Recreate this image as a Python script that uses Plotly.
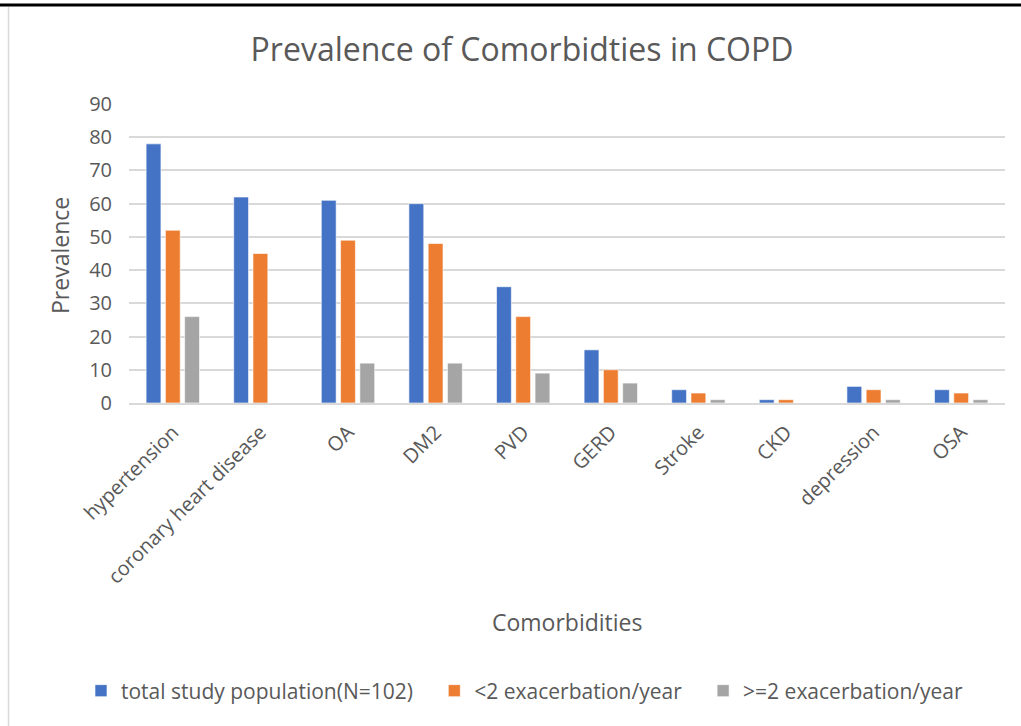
import plotly.graph_objects as go

categories = ["hypertension", "coronary heart disease", "OA", "DM2", "PVD",
              "GERD", "Stroke", "CKD", "depression", "OSA"]
total_pop = [78, 62, 61, 60, 35, 16, 4, 1, 5, 4]
lt2_exac = [52, 45, 49, 48, 26, 10, 3, 1, 4, 3]
ge2_exac = [26, 0, 12, 12, 9, 6, 1, 0, 1, 1]
series_names = ["total study population(N=102)", "<2 exacerbation/year", ">=2 exacerbation/year"]
colors = ["#4472C4", "#ED7D31", "#A5A5A5"]
y_ticks = [0, 10, 20, 30, 40, 50, 60, 70, 80, 90]

W, H = 1021, 726
L, R, T, B = 129, 16, 104, 323
pw, ph = W - L - R, H - T - B

def px_x(x):
    return (x - L) / pw

def px_y(y):
    return (H - B - y) / ph

font_fam = "Open Sans, sans-serif"
txt_col = "#595959"
pad = "\u00a0\u00a0\u00a0"

fig = go.Figure()
for i, (name, vals, c) in enumerate(zip(series_names, [total_pop, lt2_exac, ge2_exac], colors)):
    label = name + (pad if i < len(series_names) - 1 else "")
    fig.add_trace(go.Bar(x=categories, y=vals, name=label, marker_color=c,
                         marker_line=dict(color="rgba(255,255,255,0.6)", width=1)))

fig.update_layout(
    width=W, height=H,
    margin=dict(l=L, r=R, t=T, b=B, autoexpand=False),
    paper_bgcolor="white", plot_bgcolor="white",
    barmode="group", bargap=0.34, bargroupgap=0.23,
    font=dict(family=font_fam, color=txt_col, size=20),
    title=dict(text="Prevalence of Comorbidties in COPD", x=522 / W,
               xanchor="center", y=1 - 50 / H, yanchor="middle",
               font=dict(size=32, color=txt_col, family=font_fam)),
    legend=dict(orientation="h", x=px_x(81), xanchor="left", y=px_y(691), yanchor="middle",
                font=dict(size=21, color=txt_col, family=font_fam), itemwidth=30,
                traceorder="normal"),
    showlegend=True,
)
fig.update_xaxes(showgrid=False, showline=True, linecolor="#d9d9d9", linewidth=1.5,
                 tickangle=-45, ticks="", ticklabelstandoff=8,
                 tickfont=dict(size=20, color=txt_col))
fig.update_yaxes(range=[0, 90], tickvals=y_ticks, showgrid=True, gridcolor="#d9d9d9",
                 gridwidth=1.5, zeroline=False, showline=False, ticks="",
                 ticklabelstandoff=16, tickfont=dict(size=20, color=txt_col))

fig.add_annotation(text="Comorbidities", xref="paper", yref="paper",
                   x=px_x(567), y=px_y(622), xanchor="center", yanchor="middle",
                   showarrow=False, font=dict(size=23, color=txt_col))
fig.add_annotation(text="Prevalence", xref="paper", yref="paper",
                   x=px_x(60), y=px_y(256), xanchor="center", yanchor="middle",
                   textangle=-90, showarrow=False, font=dict(size=23, color=txt_col))

fig.add_shape(type="line", xref="paper", yref="paper",
              x0=px_x(0), x1=px_x(W), y0=px_y(5), y1=px_y(5),
              line=dict(color="black", width=3))
fig.add_shape(type="line", xref="paper", yref="paper",
              x0=px_x(8.5), x1=px_x(8.5), y0=px_y(7), y1=px_y(H),
              line=dict(color="#d9d9d9", width=1.5))

html = fig.to_html(full_html=True, include_plotlyjs=True,
                   config={"displayModeBar": False})
html = html.replace("<head>", "<head><style>html,body{margin:0;padding:0;overflow:hidden;}</style>", 1)
with open("out.html", "w", encoding="utf-8") as f:
    f.write(html)
